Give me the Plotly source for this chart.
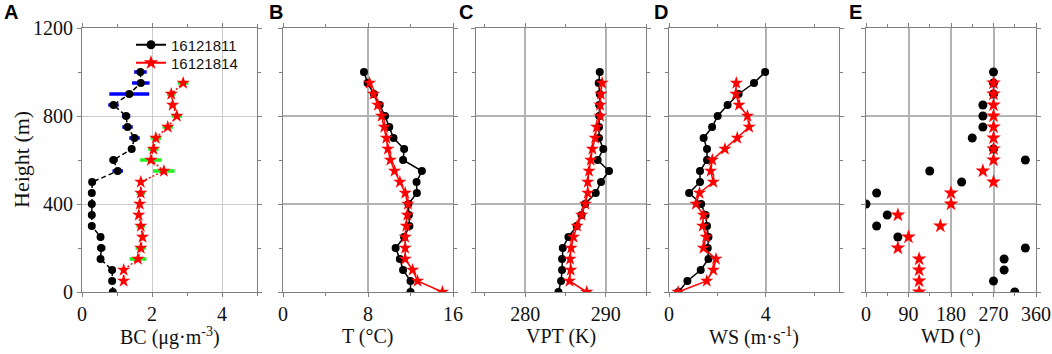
import plotly.graph_objects as go

# ---------------- data ----------------
heights = [0, 50, 100, 150, 200, 250, 300, 350, 400, 450, 500,
           550, 600, 650, 700, 750, 800, 850, 900, 950, 1000]
heights_r = heights[:20]          # 0..950 m
heights_r_bc = heights[1:20]      # 50..950 m

series_names = ["16121811", "16121814"]

# Panel A: BC (ug m-3)
bc_1811 = [0.88, 0.86, 0.86, 0.53, 0.55, 0.53, 0.28, 0.28, 0.28, 0.28, 0.29,
           1.02, 0.90, 1.42, 1.50, 1.30, 1.26, 0.90, 1.35, 1.68, 1.67]
bc_1811_err = [0.08, 0, 0, 0, 0.12, 0, 0, 0, 0, 0, 0,
               0.15, 0.12, 0, 0.15, 0.15, 0.12, 0.15, 0.57, 0.25, 0.18]
bc_1814 = [1.19, 1.19, 1.60, 1.68, 1.73, 1.68, 1.62, 1.65, 1.68, 1.68,
           2.34, 1.97, 2.04, 2.11, 2.45, 2.71, 2.59, 2.55, 2.89]
bc_1814_err = [0, 0, 0.24, 0.15, 0, 0.12, 0, 0, 0.12, 0,
               0.31, 0.31, 0.15, 0.15, 0.15, 0.15, 0.10, 0.12, 0.15]

# Panel B: T (deg C)
t_1811 = [12.0, 12.0, 11.3, 11.0, 10.6, 11.4, 11.9, 11.85, 11.8, 12.6, 12.57,
          13.07, 11.3, 11.4, 10.4, 10.0, 9.6, 9.1, 8.56, 7.96, 7.62]
t_1814 = [15.0, 12.66, 12.2, 11.5, 11.5, 11.5, 11.6, 11.7, 11.75, 11.5,
          11.0, 10.5, 10.1, 9.87, 9.72, 9.53, 9.28, 8.93, 8.53, 8.15]

# Panel C: VPT (K)
vpt_1811 = [284.13, 284.46, 284.58, 284.58, 284.67, 285.37, 286.4, 287.0, 287.44,
            288.76, 289.42, 290.41, 289.0, 289.7, 289.17, 289.17, 289.2, 289.2,
            289.26, 289.13, 289.26]
vpt_1814 = [287.64, 285.5, 285.66, 285.58, 285.7, 286.0, 286.45, 287.0, 287.48,
            287.77, 287.77, 287.93, 288.14, 288.35, 288.68, 288.88, 289.3, 289.3,
            289.4, 289.55]

# Panel D: WS (m s-1)
ws_1811 = [0.39, 0.76, 1.31, 1.63, 1.60, 1.63, 1.57, 1.51, 1.33, 0.83, 1.28,
           1.28, 1.57, 1.57, 1.43, 1.78, 2.01, 2.42, 2.875, 3.51, 3.97]
ws_1814 = [0.375, 1.56, 1.83, 1.94, 1.42, 1.53, 1.39, 1.42, 1.11, 1.26, 1.83,
           1.72, 1.79, 2.31, 2.82, 3.31, 3.24, 2.89, 2.76, 2.78]

# Panel E: WD (deg)
wd_1811 = [315, 270, 292.5, 292.5, 337.5, 67.5, 22.5, 45, 0, 22.5, 202.5,
           135, 337.5, 270, 225, 247.5, 247.5, 247.5, 270, 270, 270]
wd_1814 = [112.5, 112.5, 112.5, 112.5, 67.5, 90, 157.5, 67.5, 180, 180,
           270, 247.5, 270, 270, 270, 270, 270, 270, 270, 270]

panel_letters = ["A", "B", "C", "D", "E"]
x_titles = ["BC (μg·m<sup>-3</sup>)", "T (°C)", "VPT (K)", "WS (m·s<sup>-1</sup>)", "WD (°)"]
x_ranges = [[0, 5], [0, 16], [273.9, 295], [0, 7.02], [0, 360]]
x_tick0 = [0, 0, 280, 0, 0]
x_dtick = [2, 8, 10, 4, 90]
x_minor = [1, 4, 5, 2, 45]

# ---------------- layout geometry (pixels) ----------------
W, H = 1052, 354
px_left = [82, 283, 476, 669, 866]
px_right = [257, 453, 646, 839, 1036]
py_top, py_bot = 28, 292

SERIF = "Liberation Serif"
SANS = "Liberation Sans"
BLACK = "#000000"
RED = "#ff0000"

fig = go.Figure()

circle = dict(symbol="circle", size=8, color=BLACK)
star = dict(symbol="star", size=10, color=RED, line=dict(width=0))

def add(x, y, idx, color, marker, mode="lines+markers", dash="solid", err=None, errcolor=None):
    kw = {}
    if err is not None:
        kw["error_x"] = dict(type="data", array=err, symmetric=True, color=errcolor,
                             thickness=3.5, width=0)
    fig.add_trace(go.Scatter(
        x=x, y=y, mode=mode, xaxis=f"x{idx}" if idx > 1 else "x",
        yaxis=f"y{idx}" if idx > 1 else "y",
        line=dict(color=color, width=1.5, dash=dash), marker=marker,
        showlegend=False, **kw))

# Panel A
add(bc_1811, heights, 1, BLACK, circle, dash="5px,3px", err=bc_1811_err, errcolor="#0000ff")
add(bc_1814, heights_r_bc, 1, RED, star, dash="2px,2px", err=bc_1814_err, errcolor="#22ee22")
# Panel B
add(t_1811, heights, 2, BLACK, circle)
add(t_1814, heights_r, 2, RED, star)
# Panel C
add(vpt_1811, heights, 3, BLACK, circle)
add(vpt_1814, heights_r, 3, RED, star)
# Panel D
add(ws_1811, heights, 4, BLACK, circle)
add(ws_1814, heights_r, 4, RED, star)
# Panel E (markers only)
add(wd_1811, heights, 5, BLACK, dict(circle, size=9), mode="markers")
add(wd_1814, heights_r, 5, RED, dict(star, size=11), mode="markers")

# legend entries (solid line + marker), each in its own legend box
fig.add_trace(go.Scatter(x=[None], y=[None], mode="lines+markers", name=series_names[0],
                         line=dict(color=BLACK, width=2), marker=dict(circle, size=9),
                         showlegend=True, legend="legend"))
fig.add_trace(go.Scatter(x=[None], y=[None], mode="lines+markers", name=series_names[1],
                         line=dict(color=RED, width=2), marker=dict(star, size=11),
                         showlegend=True, legend="legend2"))

leg_common = dict(xanchor="left", yanchor="middle", bgcolor="rgba(0,0,0,0)",
                  font=dict(family=SANS, size=15, color="#111111"), itemwidth=30,
                  borderwidth=0)

layout = dict(
    width=W, height=H,
    margin=dict(l=0, r=0, t=0, b=0, autoexpand=False),
    paper_bgcolor="white", plot_bgcolor="white",
    font=dict(family=SERIF, size=20, color="#111111"),
    showlegend=True,
    legend=dict(leg_common, x=131 / W, y=1 - 45 / H),
    legend2=dict(leg_common, x=131 / W, y=1 - 63 / H),
)

ydom = [1 - py_bot / H, 1 - py_top / H]
annotations = []
for i in range(5):
    n = "" if i == 0 else str(i + 1)
    grid_w = 1 if i == 0 else 2
    grid_c = "#cccccc" if i == 0 else "#b3b3b3"
    layout[f"xaxis{n}"] = dict(
        domain=[px_left[i] / W, px_right[i] / W], anchor=f"y{n}",
        range=x_ranges[i], tick0=x_tick0[i], dtick=x_dtick[i],
        showgrid=True, gridcolor=grid_c, gridwidth=grid_w, zeroline=False,
        showline=True, linecolor="#808080", linewidth=1, mirror="ticks",
        ticks="outside", ticklen=4, tickcolor="#808080",
        minor=dict(dtick=x_minor[i], ticks="outside", ticklen=3, tickcolor="#808080",
                   showgrid=False),
        tickfont=dict(family=SERIF, size=20, color="#111111"),
        fixedrange=True, automargin=False,
    )
    layout[f"yaxis{n}"] = dict(
        domain=ydom, anchor=f"x{n}", range=[0, 1200], dtick=400,
        showgrid=True, gridcolor=grid_c, gridwidth=grid_w, zeroline=False,
        showline=True, linecolor="#808080", linewidth=1, mirror="ticks",
        ticks="outside", ticklen=4, tickcolor="#808080",
        minor=dict(dtick=200, ticks="outside", ticklen=3, tickcolor="#808080",
                   showgrid=False),
        showticklabels=(i == 0),
        tickfont=dict(family=SERIF, size=20, color="#111111"),
        fixedrange=True, automargin=False,
    )
    cx = (px_left[i] + px_right[i]) / 2 / W
    annotations.append(dict(text=x_titles[i], x=cx, y=1 - 336 / H, xref="paper", yref="paper",
                            xanchor="center", yanchor="middle", showarrow=False,
                            font=dict(family=SERIF, size=20, color="#111111")))

letter_x = [2, 267, 457, 652, 847]
for i, L in enumerate(panel_letters):
    annotations.append(dict(text=f"<b>{L}</b>", x=letter_x[i] / W, y=1 - 12 / H,
                            xref="paper", yref="paper", xanchor="left", yanchor="middle",
                            showarrow=False, font=dict(family=SANS, size=20, color="#000000")))

annotations.append(dict(text="Height (m)", x=21 / W, y=1 - 160 / H, xref="paper", yref="paper",
                        xanchor="center", yanchor="middle", textangle=-90, showarrow=False,
                        font=dict(family=SERIF, size=22, color="#111111")))

layout["annotations"] = annotations
fig.update_layout(**layout)

# remove the browser's default 8px page margin so the figure fills the window exactly
fig.write_html("out.html",
               config={"displayModeBar": False, "staticPlot": False},
               post_script="document.body.style.margin='0';document.body.style.overflow='hidden';")
